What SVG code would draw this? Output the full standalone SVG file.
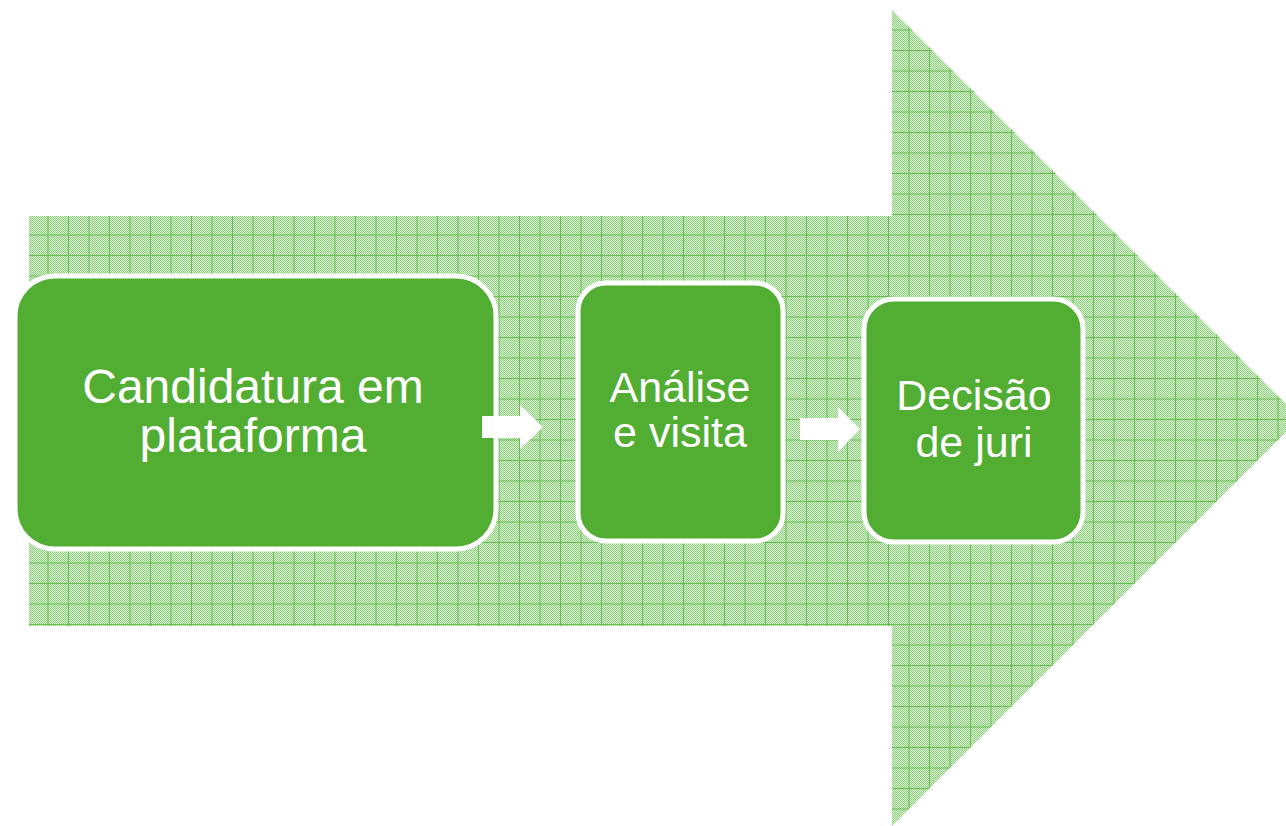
<svg xmlns="http://www.w3.org/2000/svg" width="1286" height="826" viewBox="0 0 1286 826">
  <style>
    .box { fill: #52ad33; stroke: #ffffff; stroke-width: 5; }
    .lbl { fill: #ffffff; font-family: "Liberation Sans", Arial, sans-serif; text-anchor: middle; }
    .conn { fill: #ffffff; stroke: none; }
  </style>
  <defs>
    <pattern id="checker" patternUnits="userSpaceOnUse" x="0" y="0" width="2" height="2">
      <rect x="0" y="0" width="2" height="2" fill="#d6eecf"/>
      <rect x="0" y="0" width="1" height="1" fill="#93d183"/>
      <rect x="1" y="1" width="1" height="1" fill="#93d183"/>
    </pattern>
    <pattern id="grid" patternUnits="userSpaceOnUse" x="28" y="215" width="20.5" height="20.5">
      <rect x="19.5" y="0" width="1" height="20.5" fill="#66bd52"/>
      <rect x="0" y="19.5" width="20.5" height="1" fill="#66bd52"/>
    </pattern>
  </defs>
  <rect width="1286" height="826" fill="#ffffff"/>
  <g id="bigArrow">
    <polygon points="29,216 892,216 892,10 1300,418 892,826 892,626 29,626" fill="url(#checker)"/>
    <polygon points="29,216 892,216 892,10 1300,418 892,826 892,626 29,626" fill="url(#grid)"/>
  </g>
  <g id="node1">
    <rect class="box" x="15" y="276" width="481" height="273" rx="40" ry="40"/>
    <text class="lbl" font-size="48" x="253" y="403">Candidatura em</text>
    <text class="lbl" font-size="48" x="253" y="452">plataforma</text>
  </g>
  <g id="node2">
    <rect class="box" x="578" y="283" width="205" height="258" rx="28" ry="28"/>
    <text class="lbl" font-size="43" x="680" y="402">Análise</text>
    <text class="lbl" font-size="43" x="680" y="447">e visita</text>
  </g>
  <g id="node3">
    <rect class="box" x="864" y="299" width="219" height="243" rx="30" ry="30"/>
    <text class="lbl" font-size="43" x="974" y="410">Decisão</text>
    <text class="lbl" font-size="43" x="974" y="457">de juri</text>
  </g>
  <g id="connectors">
    <polygon class="conn" points="482,416 520,416 520,405 543,427 520,449 520,438 482,438"/>
    <polygon class="conn" points="800,418 838,418 838,407 860,429 838,452 838,440 800,440"/>
  </g>
</svg>
